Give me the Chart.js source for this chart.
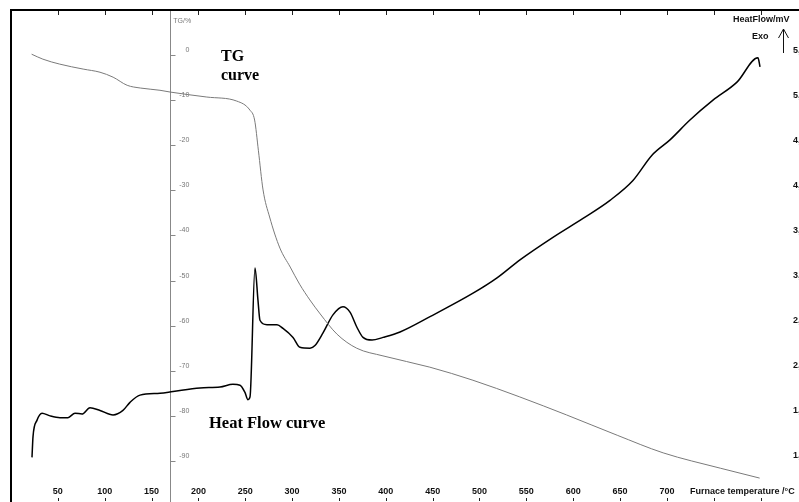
<!DOCTYPE html>
<html>
<head>
<meta charset="utf-8">
<script src="https://cdn.jsdelivr.net/npm/chart.js@4/dist/chart.umd.min.js"></script>
<style>
  html, body { margin: 0; padding: 0; background: #fff; }
  #wrap { width: 799px; height: 502px; }
</style>
</head>
<body>
<div id="wrap"><canvas id="chart" width="799" height="502"></canvas></div>
<script>
// TG curve (mass loss, %)
const tgTemp = [22, 34, 52, 77, 95, 109, 124, 138, 159, 170, 209, 241, 255, 260, 264, 269, 276, 287, 298, 308, 319, 330, 348, 369, 397, 447, 493, 543, 593, 647, 696, 757, 799];
const tgValue = [0.2, -0.9, -2.0, -3.1, -3.8, -4.9, -6.7, -7.3, -7.8, -8.2, -9.3, -10.2, -12.2, -14.4, -21.1, -29.9, -35.9, -42.8, -47.0, -50.8, -54.3, -57.4, -61.9, -65.0, -66.7, -69.2, -72.1, -75.8, -79.8, -84.3, -88.2, -91.6, -93.8];

// Heat flow curve (mV)
const hfTemp = [22.4, 23.5, 27.7, 33.1, 41.6, 52.3, 60.8, 68.3, 75.8, 84.3, 95, 108.9, 119.5, 127, 137.7, 159, 172.9, 201.7, 223.1, 236.9, 244.4, 249.7, 252.9, 255.1, 260.4, 263.6, 265.7, 273.2, 283.9, 290.3, 301, 308.4, 319.1, 324.4, 333, 343.6, 354.3, 361.8, 369.3, 375.7, 385.3, 397, 415.2, 447.2, 493.1, 518.7, 543.2, 578.4, 610.5, 639.3, 663.8, 684.1, 703.3, 724.6, 749.2, 774.8, 797.2, 799.4];
const hfValue = [1.04, 1.27, 1.45, 1.53, 1.50, 1.48, 1.48, 1.53, 1.52, 1.59, 1.56, 1.51, 1.56, 1.65, 1.73, 1.75, 1.77, 1.81, 1.82, 1.85, 1.84, 1.76, 1.68, 1.71, 3.14, 2.78, 2.56, 2.51, 2.51, 2.47, 2.37, 2.26, 2.25, 2.28, 2.42, 2.62, 2.71, 2.65, 2.48, 2.37, 2.34, 2.37, 2.43, 2.60, 2.86, 3.03, 3.23, 3.48, 3.69, 3.89, 4.11, 4.39, 4.56, 4.78, 5.00, 5.20, 5.47, 5.37];

// axis ticks
const tempTicks = [50, 100, 150, 200, 250, 300, 350, 400, 450, 500, 550, 600, 650, 700];
const tempMarks = [50, 100, 150, 200, 250, 300, 350, 400, 450, 500, 550, 600, 650, 700, 750, 800];
const tgTicks = [0, -10, -20, -30, -40, -50, -60, -70, -80, -90];
const hfTicks = [5.5, 5.0, 4.5, 4.0, 3.5, 3.0, 2.5, 2.0, 1.5, 1.0];
const hfTickLabels = ['5,5', '5,0', '4,5', '4,0', '3,5', '3,0', '2,5', '2,0', '1,5', '1,0'];
const tgAxisTemp = 170;

const toPoints = (xs, ys) => xs.map((x, i) => ({ x, y: ys[i] }));

// axes, frame and labels drawn by hand like the instrument printout
const thermoPlot = {
    id: 'thermoPlot',
    beforeDatasetsDraw(chart) {
        const { ctx, chartArea: a, scales: { x, y } } = chart;
        ctx.save();
        // TG axis line
        const ax = Math.round(x.getPixelForValue(tgAxisTemp)) + 0.5;
        ctx.strokeStyle = '#888';
        ctx.lineWidth = 1;
        ctx.beginPath();
        ctx.moveTo(ax, a.top);
        ctx.lineTo(ax, a.bottom);
        tgTicks.forEach((t) => {
            const py = Math.round(y.getPixelForValue(t)) + 0.5;
            ctx.moveTo(ax, py);
            ctx.lineTo(ax + 5, py);
        });
        ctx.stroke();

        // top ticks and bottom marks
        ctx.strokeStyle = '#222';
        ctx.beginPath();
        tempMarks.forEach((t) => {
            const px = Math.round(x.getPixelForValue(t)) + 0.5;
            ctx.moveTo(px, a.top);
            ctx.lineTo(px, a.top + 5);
            ctx.moveTo(px, a.bottom - 4);
            ctx.lineTo(px, a.bottom - 1);
        });
        ctx.stroke();

        // frame
        ctx.strokeStyle = '#000';
        ctx.lineWidth = 2;
        ctx.beginPath();
        ctx.moveTo(a.left, a.bottom);
        ctx.lineTo(a.left, a.top);
        ctx.lineTo(a.right, a.top);
        ctx.stroke();
        ctx.restore();
    },
    afterDatasetsDraw(chart) {
        const { ctx, scales: { x, y, y1 } } = chart;
        ctx.save();
        const ax = x.getPixelForValue(tgAxisTemp);

        // TG tick labels
        ctx.fillStyle = '#777';
        ctx.font = '7px "Liberation Sans"';
        ctx.textAlign = 'right';
        ctx.textBaseline = 'middle';
        tgTicks.forEach((t) => {
            ctx.fillText(String(t), ax + 19, y.getPixelForValue(t) - 5);
        });
        ctx.textAlign = 'left';
        ctx.fillText('TG/%', ax + 3, 21);

        // temperature labels
        ctx.fillStyle = '#111';
        ctx.font = 'bold 9px "Liberation Sans"';
        ctx.textAlign = 'center';
        tempTicks.forEach((t) => {
            ctx.fillText(String(t), x.getPixelForValue(t), 492);
        });
        ctx.textAlign = 'left';
        ctx.fillText('Furnace temperature /°C', 690, 492);

        // heat flow labels, cut by the right edge
        hfTicks.forEach((v, i) => {
            ctx.fillText(hfTickLabels[i], 793, y1.getPixelForValue(v) - 5);
        });
        ctx.fillText('HeatFlow/mV', 733, 20);
        ctx.fillText('Exo', 752, 37);

        // Exo arrow
        ctx.strokeStyle = '#111';
        ctx.lineWidth = 1;
        ctx.beginPath();
        ctx.moveTo(783.5, 53);
        ctx.lineTo(783.5, 29);
        ctx.moveTo(778.5, 38);
        ctx.lineTo(783.5, 29);
        ctx.lineTo(788.5, 38);
        ctx.stroke();

        // curve names
        ctx.fillStyle = '#000';
        ctx.font = 'bold 16px "Liberation Serif"';
        ctx.textAlign = 'left';
        ctx.textBaseline = 'alphabetic';
        ctx.fillText('TG', 221, 61);
        ctx.fillText('curve', 221, 80);
        ctx.font = 'bold 16.5px "Liberation Serif"';
        ctx.fillText('Heat Flow curve', 209, 428);
        ctx.restore();
    }
};

new Chart(document.getElementById('chart'), {
    type: 'scatter',
    data: {
        datasets: [
            {
                label: 'TG curve',
                data: toPoints(tgTemp, tgValue),
                yAxisID: 'y',
                showLine: true,
                borderColor: '#7a7a7a',
                borderWidth: 1,
                pointRadius: 0,
                cubicInterpolationMode: 'monotone',
            },
            {
                label: 'Heat Flow curve',
                data: toPoints(hfTemp, hfValue),
                yAxisID: 'y1',
                showLine: true,
                borderColor: '#000',
                borderWidth: 1.5,
                pointRadius: 0,
                cubicInterpolationMode: 'monotone',
            },
        ],
    },
    options: {
        responsive: false,
        animation: false,
        devicePixelRatio: 1,
        layout: { padding: { left: 11, top: 10, right: 0, bottom: 0 } },
        scales: {
            x: { type: 'linear', min: 0, max: 841, display: false },
            y: { type: 'linear', min: -99.1, max: 10, display: false },
            y1: { type: 'linear', min: 0.545, max: 6.0, display: false },
        },
        plugins: {
            legend: { display: false },
            tooltip: { enabled: false },
        },
    },
    plugins: [thermoPlot],
});
</script>
</body>
</html>
